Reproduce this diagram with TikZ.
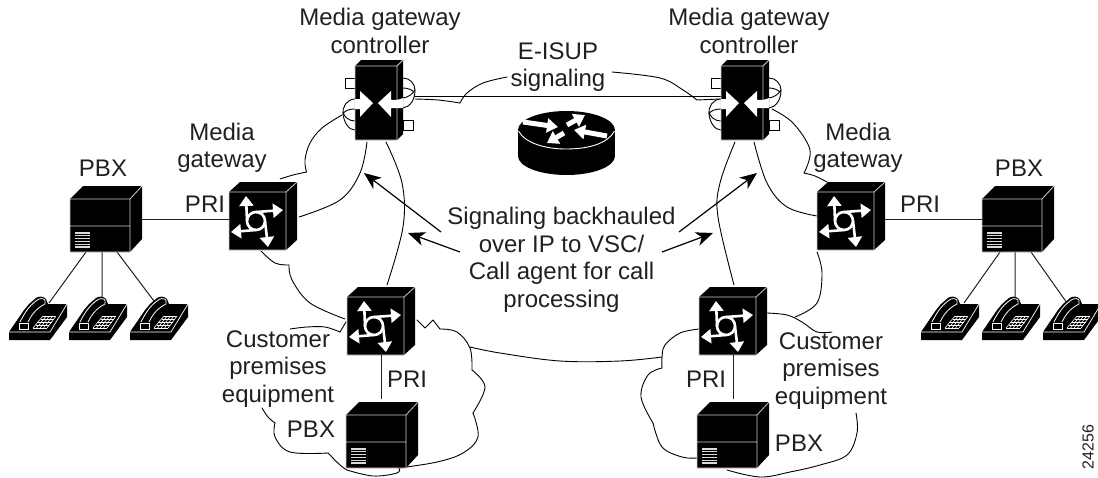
\documentclass[tikz,border=0pt]{standalone}
\usepackage{fontspec}
\setmainfont{Liberation Sans}
\usetikzlibrary{arrows.meta}
\definecolor{ink}{HTML}{231F20}
\tikzset{
  lbl/.style={text=ink,font=\fontsize{24}{27.5}\selectfont,align=center,inner sep=0pt},
  cloudline/.style={draw=black,line width=0.9pt,line cap=round,line join=round},
  pointer/.style={draw=black,line width=1.2pt,-{Stealth[length=17pt,width=14pt,inset=5pt]}},
  hit/.style={inner sep=0pt,outer sep=0pt,minimum width=#1pt,minimum height=#1pt},
  edge/.style={draw=black!20,line width=0.8pt},
  wheel/.style={draw=white,line width=2.6pt,-{Triangle[length=10pt,width=14pt]}},
  rarrow/.style={draw=white,line width=5pt,-{Triangle[length=11pt,width=14pt]}},
  cable/.style={draw=ink,line width=1pt}
}
% switch cube: front top-left at x,y
\newcommand\gwbox[3]{\begin{scope}[shift={(#2,#3)}]
  \fill[black] (0,0)--(11,-10)--(68,-10)--(68,48)--(57,58)--(0,58)--cycle;
  \draw[edge] (0,0)--(57,0)--(57,58)--(0,58)--cycle (57,0)--(68,-10);
  \draw[white,line width=2.6pt] (27,29) circle[radius=9pt];
  \draw[wheel] (18,29)--(17,4);
  \draw[wheel] (27,20)--(54,18);
  \draw[wheel] (36,29)--(39,55);
  \draw[wheel] (27,38)--(2,40);
  \node[hit=68] (#1) at (34,24) {};
\end{scope}}
% PBX cube
\newcommand\pbxbox[3]{\begin{scope}[shift={(#2,#3)}]
  \fill[black] (0,0)--(13,-13)--(72,-13)--(72,40)--(60,53)--(0,53)--cycle;
  \draw[edge] (0,0)--(60,0)--(60,53)--(0,53)--cycle (60,0)--(72,-13) (0,27)--(60,27);
  \foreach \v in {34,36.8,39.6,42.4,45.2,48}{\draw[white!85!black,line width=1.2pt] (5,\v)--(20,\v);}
  \node[hit=72] (#1) at (36,20) {};
\end{scope}}
% telephone: bottom-left at x,y
\newcommand\phoneset[3]{\begin{scope}[shift={(#2,#3)}]
  \fill[black] (0,-8)--(0,0)--(41,0)--(58,-23)--(58,-36)--(39,-36)--(37,-41)
     .. controls (34,-44) and (30,-44) .. (27,-42)--(20,-36)--(15,-30)--cycle;
  \draw[white,line width=0.7pt] (0,-8)--(41,-8)--(58,-36);
  \draw[white,line width=0.8pt] (11,-18) .. controls (15,-26) and (20,-34) .. (27,-39) .. controls (30,-42) and (34,-42) .. (36,-40);
  \draw[white,line width=0.8pt] (19,-18) .. controls (22,-24) and (26,-31) .. (36,-36) -- (36,-40);
  \draw[white,line width=0.8pt] (10,-17)--(19,-17)--(19,-11)--(10,-11)--cycle;
  \foreach \t in {0,0.25,0.5,0.75,1}{
    \draw[white,line width=0.6pt] ({24+10*\t},{-12-12*\t})--({38+9*\t},{-12-12*\t});
    \draw[white,line width=0.6pt] ({24+14*\t},-12)--({34+13*\t},-24);}
  \node[hit=40] (#1) at (29,-20) {};
\end{scope}}
% call-control unit
\newcommand\mgcbox[3]{\begin{scope}[shift={(#2,#3)}]
  \draw[fill=white,draw=black,line width=0.9pt] (-10,12) rectangle (0,22);
  \draw[fill=white,draw=black,line width=0.9pt] (48,54) rectangle (58,64);
  \draw[fill=white,draw=black,line width=0.9pt] (2,33) -- (0,33) .. controls (-8,33) and (-13,41) .. (-12,48) .. controls (-11,57) and (-6,64) .. (0,64) -- (2,64);
  \draw[cloudline] (0,43) .. controls (-6,43) and (-11,45) .. (-12,48);
  \draw[cloudline] (-12,46) .. controls (-11,51) and (-6,55) .. (0,55);
  \draw[fill=white,draw=black,line width=0.9pt] (46,12) -- (48,12) .. controls (55,12) and (60,18) .. (60,24) .. controls (60,34) and (55,41) .. (48,42) -- (46,42);
  \draw[cloudline] (48,22) .. controls (53,22) and (57,24) .. (59,26);
  \draw[cloudline] (48,32) .. controls (53,31) and (57,29) .. (60,24);
  \fill[black] (0,0)--(6,-6)--(48,-6)--(48,68)--(42,74)--(0,74)--cycle;
  \draw[edge] (0,0)--(42,0)--(42,74)--(0,74)--cycle (42,0)--(48,-6);
  \fill[white] (5,25)--(18,37)--(5,51)--(5,43)--(0,43)--(0,33)--(5,33)--cycle;
  \fill[white] (36,25)--(23,37)--(36,51)--(36,42) .. controls (40,42) and (45,42) .. (48,42) -- (48,32) .. controls (44,34) and (40,34) .. (36,34)--cycle;
  \node[hit=74] (#1) at (24,34) {};
\end{scope}}
\newcommand\cloudpiece[1]{\draw[cloudline] plot[smooth,tension=0.6] coordinates {#1};}
\begin{document}
\begin{tikzpicture}[x=1pt,y=-1pt]
\useasboundingbox (0,0) rectangle (1098,477);

% cloud outlines
\cloudpiece{(342,115)(322,128)(310,143)(305,160)(306.5,172)}
\cloudpiece{(306.5,172)(293,175)(280,179)}
\cloudpiece{(367,142)(360,173)(340,200)(299,217)}
\cloudpiece{(386,142)(402,183)(403,227)(387,285)}
\cloudpiece{(261,251)(275,263)(289,265)}
\cloudpiece{(289,265)(292,280)(310,303)(345,319)}
\draw[cloudline] (346,322)--(340,332);
\cloudpiece{(340,332)(325,327)(307,327)(290,329)}
\cloudpiece{(262,408)(268,417)(275,423)}
\cloudpiece{(275,423)(275,437)(290,452)(328,453)}
\cloudpiece{(328,453)(340,465)(347,470)}
\cloudpiece{(347,470)(373,476)(397,473)(399,468)}
\cloudpiece{(399,468)(437,462)(463,453)(478,437)(473,413)}
\cloudpiece{(473,413)(485,387)(472,370)}
\cloudpiece{(472,370)(470,348)(457,332)(440,329)}
\draw[cloudline] (417,320)--(425,328)--(433,320)--(440,329);
\cloudpiece{(470,347)(500,353)(560,361)(620,361)(662,357)}
\cloudpiece{(699,329)(680,333)(665,345)(662,357)(662,368)}
\cloudpiece{(662,368)(648,375)(641,397)(653,423)}
\cloudpiece{(653,423)(662,447)(682,457)(697,458)}
\cloudpiece{(727,470)(760,477)(790,472)(820,465)(847,455)(857,433)(856,413)}
\cloudpiece{(767,313)(787,315)(802,322)(817,332)(832,332)}
\cloudpiece{(817,252)(822,273)(817,303)(795,317)}
\cloudpiece{(772,109)(793,123)(810,150)(804,173)}
\cloudpiece{(804,173)(815,176)(827,182)}
\cloudpiece{(754,142)(767,183)(787,207)(817,216)}
\cloudpiece{(735,142)(720,183)(718,217)(734,285)}
\cloudpiece{(415,99)(438,100)(460,103)}
\cloudpiece{(460,103)(467,93)(483,83)(507,77)}
\cloudpiece{(612,72)(660,78)(683,90)(697,100)}
\draw[cloudline] (697,100)--(720,99);

% units
\coordinate (mgcLgap) at (376,96);
\coordinate (mgcRgap) at (745,96);
\draw[cloudline] (mgcLgap)--(mgcRgap);

\mgcbox{mgcL}{355}{66}
\mgcbox{mgcR}{721}{66}
\gwbox{gwL}{229}{192}
\gwbox{gwR}{817}{192}
\gwbox{cpeL}{347}{297}
\gwbox{cpeR}{699}{297}

% core router
\fill[black] (566.5,156) ellipse[x radius=48.5pt,y radius=19pt];
\fill[black] (518,130) rectangle (615,156);
\fill[black] (566.5,130) ellipse[x radius=48.5pt,y radius=19pt];
\draw[white,line width=0.9pt] (518.5,131) .. controls (525,143) and (545,149) .. (566,149) .. controls (590,149) and (608,143) .. (614.5,131);
\draw[rarrow] (523,122)--(558,127);
\draw[rarrow] (567,125)--(585,115);
\draw[rarrow] (607,136)--(574,130);
\draw[rarrow] (564,133)--(547,143);
\node[hit=60] (core) at (566.5,142) {};

% PBX units
\coordinate (lineLa) at (49,303);
\coordinate (lineLb) at (102,297);
\coordinate (lineLc) at (157,305);
\coordinate (lineRa) at (964,303);
\coordinate (lineRb) at (1015,297);
\coordinate (lineRc) at (1067,303);
\coordinate (pbxLa) at (86,252);
\coordinate (pbxLb) at (102,252);
\coordinate (pbxLc) at (117,252);
\coordinate (pbxRa) at (1000,252);
\coordinate (pbxRb) at (1015,252);
\coordinate (pbxRc) at (1031,252);
\draw[cable] (pbxLa)--(lineLa) (pbxLb)--(lineLb) (pbxLc)--(lineLc);
\draw[cable] (pbxRa)--(lineRa) (pbxRb)--(lineRb) (pbxRc)--(lineRc);
\phoneset{telLa}{9}{340}
\phoneset{telLb}{69}{340}
\phoneset{telLc}{130}{340}
\phoneset{telRa}{921}{340}
\phoneset{telRb}{982}{340}
\phoneset{telRc}{1043}{340}
\pbxbox{pbxL}{70}{199}
\pbxbox{pbxR}{982}{199}
\pbxbox{pbxCL}{346}{415}
\pbxbox{pbxCR}{697}{415}

% PRI links
\draw[cable] (pbxL.east)--(pbxL.east -| gwL.west);
\draw[cable] (pbxR.west)--(pbxR.west -| gwR.east);
\draw[cable] (cpeL.south)--(cpeL.south |- pbxCL.north);
\draw[cable] (cpeR.south)--(cpeR.south |- pbxCR.north);

% labels
\node[lbl] (tMgcL) at (380,31) {Media gateway\\controller};
\node[lbl] (tMgcR) at (749,31) {Media gateway\\controller};
\node[lbl] (tIsup) at (558,67) {E-ISUP\\signaling};
\node[lbl] (tGwL) at (222,148) {Media\\gateway};
\node[lbl] (tGwR) at (858,148) {Media\\gateway};
\node[lbl] (tPbxL) at (103,168) {PBX};
\node[lbl] (tPbxR) at (1019,168) {PBX};
\node[lbl] (tPriL) at (205,204) {PRI};
\node[lbl] (tPriR) at (920,204) {PRI};
\node[lbl] (tPriCL) at (407,379) {PRI};
\node[lbl] (tPriCR) at (706,379) {PRI};
\node[lbl] (tPbxCL) at (311,429) {PBX};
\node[lbl] (tPbxCR) at (799,443) {PBX};
\node[lbl] (tSig) at (561.5,260) {Signaling backhauled\\over IP to VSC/\\Call agent for call\\processing};
\node[lbl] (tCpeL) at (278,369) {Customer\\premises\\equipment};
\node[lbl] (tCpeR) at (831,371) {Customer\\premises\\equipment};
\node[text=ink,font=\fontsize{16}{18}\selectfont,inner sep=0pt,rotate=90] (tNum) at (1088,447) {24256};

% pointers
\coordinate (pA) at (441,232);
\coordinate (pAt) at (364,173);
\coordinate (pB) at (460,252);
\coordinate (pBt) at (408,233);
\coordinate (pC) at (679,232);
\coordinate (pCt) at (757,173);
\coordinate (pD) at (662,252);
\coordinate (pDt) at (713,233);
\draw[pointer] (pA)--(pAt);
\draw[pointer] (pB)--(pBt);
\draw[pointer] (pC)--(pCt);
\draw[pointer] (pD)--(pDt);
\end{tikzpicture}
\end{document}
